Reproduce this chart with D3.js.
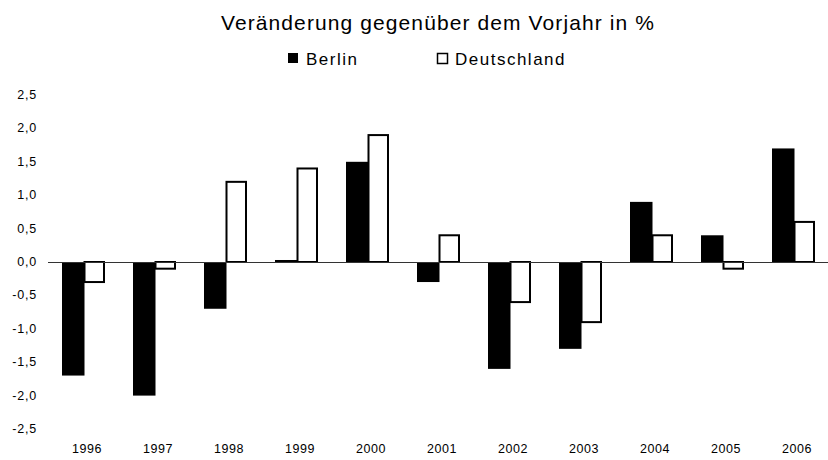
<!DOCTYPE html>
<html>
<head>
<meta charset="utf-8">
<script src="https://cdn.jsdelivr.net/npm/d3@7"></script>
<style>
  body { margin: 0; background: #fff; }
  text { font-family: "Liberation Sans", Arial, sans-serif; fill: #000; }
</style>
</head>
<body>
<div id="chart"></div>
<script>
// data
var years = ["1996", "1997", "1998", "1999", "2000", "2001", "2002", "2003", "2004", "2005", "2006"];
var berlin = [-1.7, -2.0, -0.7, 0.03, 1.5, -0.3, -1.6, -1.3, 0.9, 0.4, 1.7];
var deutschland = [-0.3, -0.1, 1.2, 1.4, 1.9, 0.4, -0.6, -0.9, 0.4, -0.1, 0.6];
var seriesNames = ["Berlin", "Deutschland"];
var yTicks = [-2.5, -2.0, -1.5, -1.0, -0.5, 0.0, 0.5, 1.0, 1.5, 2.0, 2.5];

var width = 828, height = 460;

var svg = d3.select("#chart").append("svg")
    .attr("width", width)
    .attr("height", height);

// scales
var x = d3.scaleBand()
    .domain(years)
    .range([48, 829])
    .paddingInner(0)
    .paddingOuter(0);

var y = d3.scaleLinear()
    .domain([-2.5, 2.5])
    .range([429, 95]);

var fmt = function(d) { return d3.format(".1f")(d).replace(".", ",").replace("−", "-"); };

// title
svg.append("text")
    .attr("x", 438)
    .attr("y", 30)
    .attr("text-anchor", "middle")
    .style("font-size", "21px")
    .style("letter-spacing", "1.1px")
    .text("Veränderung gegenüber dem Vorjahr in %");

// legend
var legend = svg.append("g");
legend.append("rect")
    .attr("x", 288).attr("y", 53).attr("width", 10).attr("height", 10)
    .attr("fill", "#000");
legend.append("text")
    .attr("x", 306).attr("y", 64.5)
    .style("font-size", "17px")
    .style("letter-spacing", "1.5px")
    .text(seriesNames[0]);
legend.append("rect")
    .attr("x", 437.5).attr("y", 53.5).attr("width", 10).attr("height", 10)
    .attr("fill", "#fff").attr("stroke", "#000").attr("stroke-width", 1.5);
legend.append("text")
    .attr("x", 455).attr("y", 64.5)
    .style("font-size", "17px")
    .style("letter-spacing", "1.5px")
    .text(seriesNames[1]);

// y tick labels (no axis line)
svg.append("g").selectAll("text")
    .data(yTicks)
    .enter().append("text")
    .attr("x", 37)
    .attr("y", function(d) { return y(d) + 4; })
    .attr("text-anchor", "end")
    .style("font-size", "12.5px")
    .style("letter-spacing", "0.8px")
    .text(function(d) { return fmt(d); });

// x labels
svg.append("g").selectAll("text")
    .data(years)
    .enter().append("text")
    .attr("x", function(d) { return x(d) + x.bandwidth() / 2 + 3.5; })
    .attr("y", 453)
    .attr("text-anchor", "middle")
    .style("font-size", "12.5px")
    .style("letter-spacing", "0.6px")
    .text(function(d) { return d; });

// bars
var barW = 22.5;
var groupOffset = 14;

svg.append("g").selectAll("rect")
    .data(berlin)
    .enter().append("rect")
    .attr("x", function(d, i) { return x(years[i]) + groupOffset; })
    .attr("width", barW)
    .attr("y", function(d) { return Math.min(y(d), y(0)); })
    .attr("height", function(d) { return Math.abs(y(d) - y(0)); })
    .attr("fill", "#000");

svg.append("g").selectAll("rect")
    .data(deutschland)
    .enter().append("rect")
    .attr("x", function(d, i) { return x(years[i]) + groupOffset + barW; })
    .attr("width", barW - 3)
    .attr("y", function(d) { return Math.min(y(d), y(0)); })
    .attr("height", function(d) { return Math.abs(y(d) - y(0)); })
    .attr("fill", "#fff")
    .attr("stroke", "#000")
    .attr("stroke-width", 2);

// zero line
svg.append("line")
    .attr("x1", 48).attr("x2", 828)
    .attr("y1", y(0) + 0.5).attr("y2", y(0) + 0.5)
    .attr("stroke", "#333")
    .attr("stroke-width", 1);
</script>
</body>
</html>
